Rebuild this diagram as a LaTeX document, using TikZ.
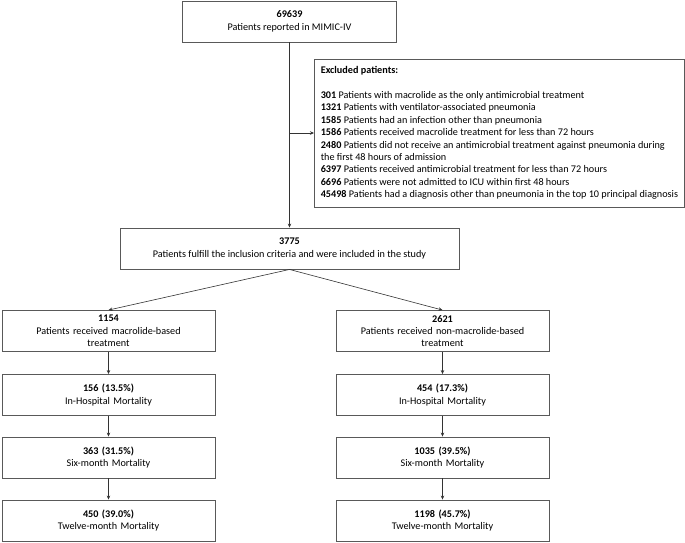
\documentclass[tikz,border=0pt]{standalone}
\usepackage{fontspec}
\setmainfont{Carlito}
\usetikzlibrary{arrows.meta}
\begin{document}
\begin{tikzpicture}[x=1pt,y=-1pt,
  box/.style={draw=black!65,line width=0.9pt,rectangle,align=center,inner sep=2pt,
    font=\fontsize{10.2}{12.4}\selectfont},
  colbox/.style={box,minimum width=213pt,minimum height=41pt,text width=205pt},
  arr/.style={draw=black!80,line width=0.6pt,-{Stealth[length=4pt,width=3.5pt]}}]
\useasboundingbox (0,0) rectangle (685,542);
\node[box,minimum width=214pt,minimum height=41pt] (top) at (289.5,21.5)
  {\textbf{69639}\\Patients reported in MIMIC-IV};
\node[box,minimum width=370pt,minimum height=148pt,align=left,inner sep=3.5pt,anchor=west] (excl) at (314,133)
  {\textbf{Excluded patients:}\\[12.4pt]
   \textbf{301} Patients with macrolide as the only antimicrobial treatment\\
   \textbf{1321} Patients with ventilator-associated pneumonia\\
   \textbf{1585} Patients had an infection other than pneumonia\\
   \textbf{1586} Patients received macrolide treatment for less than 72 hours\\
   \textbf{2480} Patients did not receive an antimicrobial treatment against pneumonia during\\
   the first 48 hours of admission\\
   \textbf{6397} Patients received antimicrobial treatment for less than 72 hours\\
   \textbf{6696} Patients were not admitted to ICU within first 48 hours\\
   \textbf{45498} Patients had a diagnosis other than pneumonia in the top 10 principal diagnosis};
\node[box,minimum width=339pt,minimum height=41pt] (incl) at (289.5,248.5)
  {\textbf{3775}\\Patients fulfill the inclusion criteria and were included in the study};
\node[colbox] (lA) at (108.5,331) {\textbf{1154}\\Patients received macrolide-based\\treatment};
\node[colbox] (lB) at (108.5,395) {\textbf{156 (13.5\%)}\\In-Hospital Mortality};
\node[colbox] (lC) at (108.5,457.5) {\textbf{363 (31.5\%)}\\Six-month Mortality};
\node[colbox] (lD) at (108.5,520.5) {\textbf{450 (39.0\%)}\\Twelve-month Mortality};
\node[colbox] (rA) at (442.5,331) {\textbf{2621}\\Patients received non-macrolide-based\\treatment};
\node[colbox] (rB) at (442.5,395) {\textbf{454 (17.3\%)}\\In-Hospital Mortality};
\node[colbox] (rC) at (442.5,457.5) {\textbf{1035 (39.5\%)}\\Six-month Mortality};
\node[colbox] (rD) at (442.5,520.5) {\textbf{1198 (45.7\%)}\\Twelve-month Mortality};
\coordinate (tap) at (top.south |- excl.west);
\draw[arr] (top.south) -- (incl.north);
\draw[arr] (tap) -- (excl.west);
\draw[arr] (incl.south) -- (lA.north);
\draw[arr] (incl.south) -- (rA.north);
\draw[arr] (lA) -- (lB);
\draw[arr] (lB) -- (lC);
\draw[arr] (lC) -- (lD);
\draw[arr] (rA) -- (rB);
\draw[arr] (rB) -- (rC);
\draw[arr] (rC) -- (rD);
\end{tikzpicture}
\end{document}
